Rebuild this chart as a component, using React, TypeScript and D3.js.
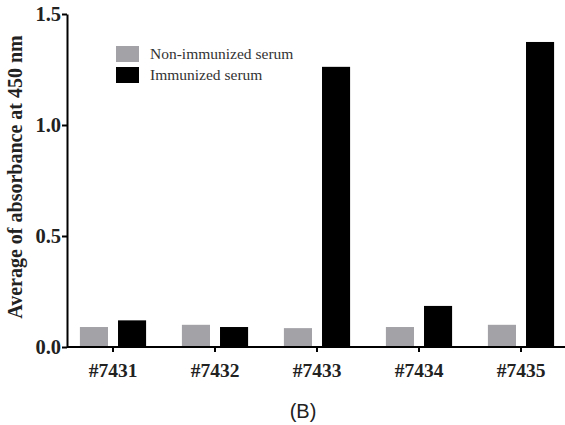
import React, { useEffect, useRef } from "react";
import * as d3 from "d3";

const samples = ["#7431", "#7432", "#7433", "#7434", "#7435"];
const nonImmunized = [0.09, 0.1, 0.085, 0.09, 0.1];
const immunized = [0.12, 0.09, 1.262, 0.185, 1.374];
const seriesNames = ["Non-immunized serum", "Immunized serum"];
const seriesColors = ["#a3a3a7", "#000000"];
const yTicks = [0, 0.5, 1.0, 1.5];

const App = () => {
  const svgRef = useRef<SVGSVGElement>(null);

  useEffect(() => {
    const svg = d3.select(svgRef.current);
    svg.selectAll("*").remove();

    const width = 565, height = 425;
    const margin = { top: 14, right: 0, bottom: 77, left: 67 };
    const serif = "Liberation Serif";

    const x = d3.scaleBand()
      .domain(samples)
      .range([62, 572])
      .paddingInner(0)
      .paddingOuter(0);

    const inner = d3.scaleBand()
      .domain(["0", "1"])
      .range([0, x.bandwidth()])
      .paddingInner(0.263)
      .paddingOuter(0.47);

    const y = d3.scaleLinear()
      .domain([0, 1.5])
      .range([height - margin.bottom - 1, margin.top]);

    const rows = samples.map((s, i) => ({ s, vals: [nonImmunized[i], immunized[i]] }));

    svg.append("g")
      .selectAll("g")
      .data(rows)
      .join("g")
      .attr("transform", d => `translate(${x(d.s)},0)`)
      .selectAll("rect")
      .data(d => d.vals.map((v, k) => ({ v, k })))
      .join("rect")
      .attr("x", d => inner(String(d.k))!)
      .attr("width", inner.bandwidth())
      .attr("y", d => y(d.v))
      .attr("height", d => y(0) - y(d.v))
      .attr("fill", d => seriesColors[d.k]);

    // x axis
    const xAxis = svg.append("g")
      .attr("transform", `translate(0,${y(0)})`)
      .call(d3.axisBottom(x).tickSize(5).tickSizeOuter(0));
    xAxis.select(".domain").attr("d", `M${margin.left},0H${width}`).attr("stroke-width", 2);
    xAxis.selectAll(".tick line").attr("stroke-width", 2);
    xAxis.selectAll(".tick text")
      .attr("dy", "1.15em")
      .attr("font-family", serif)
      .attr("font-weight", "bold")
      .attr("font-size", 19.5)
      .attr("fill", "#222");

    // y axis
    const yAxis = svg.append("g")
      .attr("transform", `translate(${margin.left},0)`)
      .call(d3.axisLeft(y).tickValues(yTicks).tickFormat(d3.format(".1f")).tickSize(5).tickSizeOuter(0));
    yAxis.select(".domain").attr("stroke-width", 2);
    yAxis.selectAll(".tick line").attr("stroke-width", 2);
    yAxis.selectAll(".tick text")
      .attr("x", -6)
      .attr("font-family", serif)
      .attr("font-weight", "bold")
      .attr("font-size", 20.5)
      .attr("fill", "#222");

    svg.append("text")
      .attr("transform", `translate(22,177) rotate(-90)`)
      .attr("text-anchor", "middle")
      .attr("font-family", serif)
      .attr("font-weight", "bold")
      .attr("font-size", 20)
      .attr("fill", "#222")
      .text("Average of absorbance at 450 nm");

    // legend
    const legend = svg.append("g").attr("transform", "translate(116,46)");
    seriesNames.forEach((name, i) => {
      legend.append("rect")
        .attr("x", 0)
        .attr("y", i * 21)
        .attr("width", 23)
        .attr("height", 16)
        .attr("fill", seriesColors[i]);
      legend.append("text")
        .attr("x", 34)
        .attr("y", i * 21 + 13)
        .attr("font-family", serif)
        .attr("font-size", 15.5)
        .attr("fill", "#333")
        .text(name);
    });

    svg.append("text")
      .attr("x", 303)
      .attr("y", 418)
      .attr("text-anchor", "middle")
      .attr("font-family", "Liberation Sans")
      .attr("font-size", 20)
      .attr("fill", "#222")
      .text("(B)");
  }, []);

  return (
    <svg ref={svgRef} width={565} height={425}
      style={{ position: "absolute", left: 0, top: 0, background: "#fff" }} />
  );
};

export default App;
